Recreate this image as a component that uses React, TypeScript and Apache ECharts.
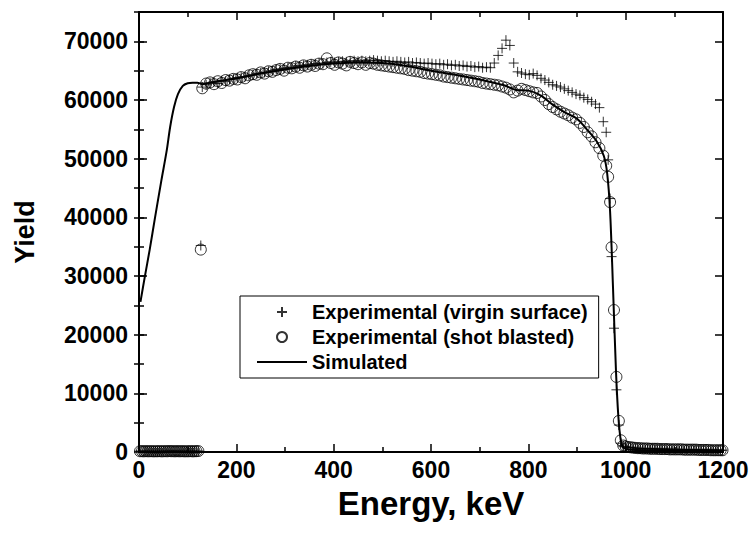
import React, { useEffect, useRef } from "react";
import * as echarts from "echarts";

// ---- Experimental data (energy in keV, yield in counts) ----
const energyLow = [2, 6, 10, 14, 18, 22, 26, 30, 34, 38, 42, 46, 50, 54, 58, 62, 66, 70, 74, 78, 82, 86, 90, 94, 98, 102, 106, 110, 114, 118, 122];
const virginLow = [150, 120, 140, 110, 130, 120, 100, 140, 120, 110, 130, 120, 140, 110, 130, 150, 120, 140, 110, 130, 120, 100, 140, 120, 110, 130, 120, 140, 110, 130, 150];
const shotLow = [130, 140, 110, 150, 120, 130, 140, 110, 130, 120, 150, 110, 130, 140, 120, 160, 130, 140, 110, 150, 120, 130, 140, 110, 130, 120, 150, 110, 130, 140, 160];

const energyIso = [127];
const virginIso = [35200];
const shotIso = [34500];

const energyMain = [
  130, 138, 146, 154, 162, 170, 178, 186, 194, 202,
  210, 218, 226, 234, 242, 250, 258, 266, 274, 282,
  290, 298, 306, 314, 322, 330, 338, 346, 354, 362,
  370, 378, 386, 394, 402, 410, 418, 426, 434, 442,
  450, 458, 466, 474, 482, 490, 498, 506, 514, 522,
  530, 538, 546, 554, 562, 570, 578, 586, 594, 602,
  610, 618, 626, 634, 642, 650, 658, 666, 674, 682,
  690, 698, 706, 714, 722, 730, 738, 746, 754, 762,
  770, 778, 786, 794, 802, 810, 818, 826, 834, 842,
  850, 858, 866, 874, 882, 890, 898, 906, 914, 922,
  930, 938, 946, 954,
];
const virginMain = [
  62200, 62600, 62900, 63100, 62800, 63300, 63200, 63500, 63600, 63800,
  63900, 64000, 64200, 64300, 64500, 64600, 64700, 64900, 65000, 65200,
  65300, 65400, 65500, 65600, 65800, 65800, 65900, 66000, 66100, 66200,
  66300, 66200, 66400, 66500, 66400, 66500, 66600, 66500, 66600, 66700,
  66600, 66700, 66600, 66700, 66800, 66700, 66600, 66700, 66600, 66500,
  66600, 66500, 66400, 66500, 66300, 66400, 66300, 66200, 66300, 66200,
  66100, 66200, 66000, 66100, 65900, 66000, 65800, 65900, 65700, 65800,
  65600, 65700, 65500, 65600, 65500, 66300, 67600, 68800, 70200, 69300,
  66300, 64800, 64600, 64400, 64300, 64500, 64200, 63700, 63400, 63000,
  62600, 62400, 62200, 61900, 61600, 61300, 61000, 60800, 60400, 60100,
  59700, 59300, 58700, 56300,
];
const shotMain = [
  62000, 62800, 63000, 62700, 63200, 62900, 63400, 63300, 63600, 63500,
  63900, 63700, 64200, 64400, 64300, 64700, 64500, 64900, 64800, 65100,
  65300, 65000, 65500, 65400, 65700, 65500, 65900, 65700, 66000, 65800,
  66200, 66100, 67100, 66300, 66000, 66400, 66200, 65900, 66500, 66300,
  66100, 66400, 66000, 66300, 66200, 66000, 65900, 65800, 65700, 65600,
  65500, 65400, 65300, 65100, 65000, 64900, 64800, 64600, 64500, 64400,
  64300, 64200, 64000, 63900, 63800, 63700, 63600, 63500, 63400, 63300,
  63200, 63100, 62900, 62800, 62700, 62600, 62500, 62300, 62100, 61800,
  61300, 61600, 61900, 61700, 61500, 61300, 61200, 60600, 60000, 59300,
  58800, 58400, 58000, 57700, 57400, 57000, 56700, 56100, 55400, 54500,
  53800, 52800, 51800, 50500,
];

const energyDrop = [960, 964, 968, 971, 976, 981, 986, 990];
const virginDrop = [54500, 49800, 43200, 33300, 21100, 10600, 4600, 1500];
const shotDrop = [48800, 46900, 42600, 34900, 24200, 12800, 5300, 2000];

const energyTail = [995, 1000, 1005, 1010, 1015, 1020, 1025, 1030, 1035, 1040, 1045, 1050, 1055, 1060, 1065, 1070, 1075, 1080, 1085, 1090, 1095, 1100, 1105, 1110, 1115, 1120, 1125, 1130, 1135, 1140, 1145, 1150, 1155, 1160, 1165, 1170, 1175, 1180, 1185, 1190, 1195, 1199];
const virginTail = [1000, 900, 800, 750, 700, 650, 650, 600, 600, 600, 550, 550, 550, 550, 500, 500, 500, 500, 500, 450, 450, 450, 450, 450, 400, 400, 400, 400, 400, 400, 350, 350, 350, 350, 350, 350, 300, 300, 300, 300, 300, 300];
const shotTail = [1100, 950, 850, 800, 750, 700, 650, 650, 600, 600, 600, 550, 550, 550, 550, 500, 500, 500, 500, 450, 450, 450, 450, 450, 450, 400, 400, 400, 400, 400, 400, 350, 350, 350, 350, 350, 300, 300, 300, 300, 300, 300];

// ---- Simulated spectrum ----
const simEnergy = [3, 12, 22, 33, 46, 57, 64, 72, 80, 90, 100, 110, 120, 130, 150, 200, 250, 300, 350, 400, 450, 500, 550, 600, 650, 700, 750, 775, 800, 825, 850, 875, 900, 920, 940, 955, 962, 968, 974, 980, 985, 990, 996, 1010, 1100, 1200];
const simYield = [25600, 29900, 34500, 40000, 46300, 51400, 55400, 58800, 61000, 62400, 62850, 62950, 62950, 62700, 63000, 63700, 64500, 65200, 65800, 66200, 66400, 66300, 65800, 65000, 64300, 63500, 62500, 61700, 61600, 60800, 59200, 57900, 56800, 55000, 53000, 50500, 47500, 41000, 28000, 14000, 6000, 2000, 700, 400, 300, 250];

// ---- Axis settings ----
const xTicks = { min: 0, max: 1200, interval: 200 };
const yTicks = { min: 0, max: 75000, interval: 10000, minorInterval: 5000, lastLabel: 70000 };

const legendNames = ["Experimental (virgin surface)", "Experimental (shot blasted)", "Simulated"];
const xTitle = "Energy, keV";
const yTitle = "Yield";

const FONT = "'Liberation Sans', Arial, Helvetica, sans-serif";

function zip(xs: number[], ys: number[]) {
  return xs.map((x, i) => [x, ys[i]]);
}

export default function App() {
  const ref = useRef<HTMLDivElement>(null);
  useEffect(() => {
    if (!ref.current) return;
    const chart = echarts.init(ref.current, undefined, { renderer: "svg" });

    const energy = [...energyLow, ...energyIso, ...energyMain, ...energyDrop, ...energyTail];
    const virgin = [...virginLow, ...virginIso, ...virginMain, ...virginDrop, ...virginTail];
    const shot = [...shotLow, ...shotIso, ...shotMain, ...shotDrop, ...shotTail];

    const grid = { left: 139, right: 31, top: 12, bottom: 83 };
    const lineStyle = { color: "#000", width: 2 };

    const xBase = {
      type: "value" as const,
      min: xTicks.min,
      max: xTicks.max,
      interval: xTicks.interval,
      splitLine: { show: false },
      axisTick: { inside: true, length: 8, lineStyle: { color: "#000", width: 1.5 } },
      minorTick: { show: true, splitNumber: 2, length: 5, lineStyle: { color: "#000", width: 1.5 } },
      axisLine: { show: true, onZero: false, lineStyle },
    };
    const yMajor = {
      type: "value" as const,
      min: yTicks.min,
      max: yTicks.max,
      interval: yTicks.interval,
      splitLine: { show: false },
      axisTick: { inside: true, length: 8, lineStyle: { color: "#000", width: 1.5 } },
      axisLine: { show: true, onZero: false, lineStyle },
    };
    const yMinor = {
      type: "value" as const,
      min: yTicks.min,
      max: yTicks.max,
      interval: yTicks.minorInterval,
      splitLine: { show: false },
      axisLabel: { show: false },
      axisTick: { inside: true, length: 5, lineStyle: { color: "#000", width: 1.5 } },
      axisLine: { show: false },
    };

    chart.setOption({
      animation: false,
      backgroundColor: "#fff",
      grid,
      xAxis: [
        {
          ...xBase,
          position: "bottom",
          name: xTitle,
          nameLocation: "middle",
          nameGap: 38,
          nameMoveOverlap: false,
          nameTextStyle: { fontFamily: FONT, fontSize: 33, fontWeight: "bold", color: "#000", lineHeight: 26 },
          axisLabel: {
            fontFamily: FONT,
            fontSize: 23,
            fontWeight: "bold",
            color: "#000",
            margin: 6,
            formatter: (v: number) => String(v),
          },
        },
        { ...xBase, position: "top", axisLabel: { show: false } },
      ],
      yAxis: [
        {
          ...yMajor,
          position: "left",
          name: yTitle,
          nameLocation: "middle",
          nameGap: 101,
          nameMoveOverlap: false,
          nameTextStyle: { fontFamily: FONT, fontSize: 27, fontWeight: "bold", color: "#000" },
          axisLabel: {
            fontFamily: FONT,
            fontSize: 23,
            fontWeight: "bold",
            color: "#000",
            margin: 11,
            formatter: (v: number) => (v <= yTicks.lastLabel ? String(v) : ""),
          },
        },
        { ...yMinor, position: "left" },
        { ...yMajor, position: "right", axisLabel: { show: false } },
        { ...yMinor, position: "right" },
      ],
      legend: {
        orient: "vertical",
        left: 240,
        top: 296,
        padding: [6, 11, 6, 17],
        itemGap: 5,
        itemWidth: 50,
        itemHeight: 10,
        borderColor: "#000",
        borderWidth: 1,
        borderRadius: 0,
        textStyle: { fontFamily: FONT, fontSize: 20, fontWeight: "bold", color: "#000" },
        data: [
          { name: legendNames[0], icon: "path://M0,5L10,5M5,0L5,10" },
          { name: legendNames[1], icon: "circle" },
          { name: legendNames[2], icon: "path://M0,0L45,0L45,2L0,2Z" },
        ],
      },
      series: [
        {
          name: legendNames[0],
          type: "scatter",
          xAxisIndex: 0,
          yAxisIndex: 0,
          symbol: "path://M0,5L10,5M5,0L5,10",
          symbolSize: 10,
          itemStyle: { color: "transparent", borderColor: "#000", borderWidth: 1 },
          data: zip(energy, virgin),
          z: 3,
        },
        {
          name: legendNames[1],
          type: "scatter",
          xAxisIndex: 0,
          yAxisIndex: 0,
          symbol: "circle",
          symbolSize: 11,
          itemStyle: { color: "transparent", borderColor: "#000", borderWidth: 1 },
          data: zip(energy, shot),
          z: 3,
        },
        {
          name: legendNames[2],
          type: "line",
          xAxisIndex: 0,
          yAxisIndex: 0,
          symbol: "none",
          showSymbol: false,
          smooth: 0.3,
          lineStyle: { color: "#000", width: 2 },
          itemStyle: { color: "#000" },
          data: zip(simEnergy, simYield),
          z: 4,
        },
      ],
    });
    return () => chart.dispose();
  }, []);
  return <div ref={ref} style={{ position: "fixed", left: 0, top: 0, width: 754, height: 535, background: "#fff" }} />;
}
